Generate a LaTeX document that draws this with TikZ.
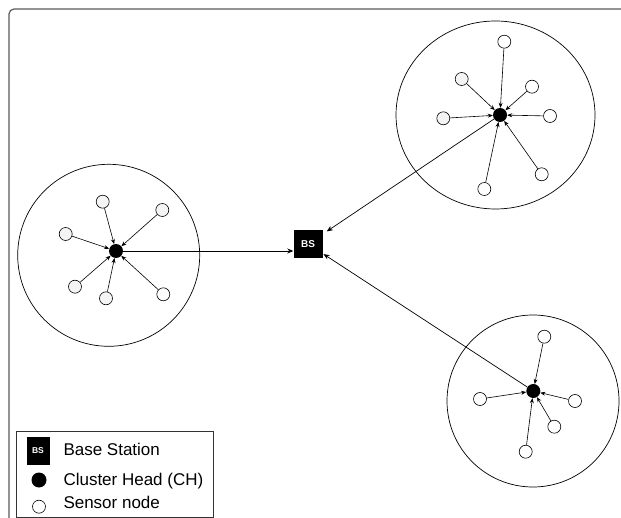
\documentclass[tikz,border=0pt]{standalone}
\usepackage{fontspec}
\setmainfont{Liberation Sans}
\usetikzlibrary{arrows.meta}
\begin{document}
\begin{tikzpicture}[x=1pt,y=-1pt,
  sensor/.style={circle,draw=black,line width=0.6pt,fill=white,minimum size=13pt,inner sep=0pt},
  graysensor/.style={sensor,fill=gray!9},
  head/.style={circle,fill=black,minimum size=14pt,inner sep=0pt},
  link/.style={line width=0.6pt,-{Stealth[length=5pt,width=4pt]}},
  uplink/.style={line width=0.7pt,-{Stealth[length=6pt,width=5pt]}},
  clusterarea/.style={draw=black,line width=0.7pt},
  station/.style={fill=black,text=white,font=\bfseries\fontsize{10}{11}\selectfont,
    minimum width=29pt,minimum height=28pt,inner sep=0pt},
  legendtext/.style={anchor=base west,inner sep=0pt,font=\fontsize{17}{19}\selectfont}]
\useasboundingbox (0,0) rectangle (621,518);

% outer frame (open on the right and bottom)
\draw[black!65,line width=1.2pt,rounded corners=5pt] (9,518) -- (9,9) -- (621,9);

% ---- base station
\node[station] (bs) at (308,244) {BS};

% ---- left cluster
\draw[clusterarea] (108.7,255.3) circle (91pt);
\node[head] (L) at (116,251) {};
\node[graysensor] (L1) at (102.7,201.7) {};
\node[graysensor] (L2) at (162.3,210) {};
\node[graysensor] (L3) at (65.7,234) {};
\node[graysensor] (L4) at (75,286.7) {};
\node[graysensor] (L5) at (106,298.3) {};
\node[sensor] (L6) at (163.3,294.3) {};
\foreach \s in {L1,L2,L3,L4,L5,L6} \draw[link] (\s) -- (L);

% ---- upper right cluster
\draw[clusterarea] (495.5,115) ellipse [x radius=99.5pt, y radius=94pt];
\node[head] (T) at (500,115) {};
\node[sensor] (T1) at (504.3,41.7) {};
\node[graysensor] (T2) at (461.7,79) {};
\node[sensor] (T3) at (532,86.7) {};
\node[graysensor] (T4) at (443.3,118.3) {};
\node[sensor] (T5) at (550,116) {};
\node[sensor] (T6) at (541.7,174.3) {};
\node[sensor] (T7) at (484.3,189) {};
\foreach \s in {T1,T2,T3,T4,T5,T6,T7} \draw[link] (\s) -- (T);

% ---- lower right cluster
\draw[clusterarea] (533,401) circle (86pt);
\node[head] (B) at (533.3,391) {};
\node[sensor] (B1) at (544.3,336.7) {};
\node[sensor] (B2) at (480,399) {};
\node[sensor] (B3) at (575,401) {};
\node[sensor] (B4) at (554.3,426.7) {};
\node[sensor] (B5) at (525.7,451.7) {};
\foreach \s in {B1,B2,B3,B4,B5} \draw[link] (\s) -- (B);

% ---- cluster heads report to the base station
\draw[uplink] (L) -- (L -| bs.west);
\draw[uplink,shorten >=5pt] (T) -- (bs);
\draw[uplink,shorten >=1pt] (B) -- (bs);

% ---- legend
\draw[black!80,line width=0.7pt] (16,431) rectangle (213,517);
\node[station,minimum width=23pt,minimum height=28pt,font=\bfseries\fontsize{8.5}{9}\selectfont] (kbs) at (38,451) {BS};
\node[legendtext] (tbs) at (63.3,455.5) {Base Station};
\node[head,minimum size=15pt] (kch) at (39,480) {};
\node[legendtext] (tch) at (63.3,485.5) {Cluster Head (CH)};
\node[sensor] (ksn) at (39,506.7) {};
\node[legendtext] (tsn) at (63.3,508) {Sensor node};
\end{tikzpicture}
\end{document}
